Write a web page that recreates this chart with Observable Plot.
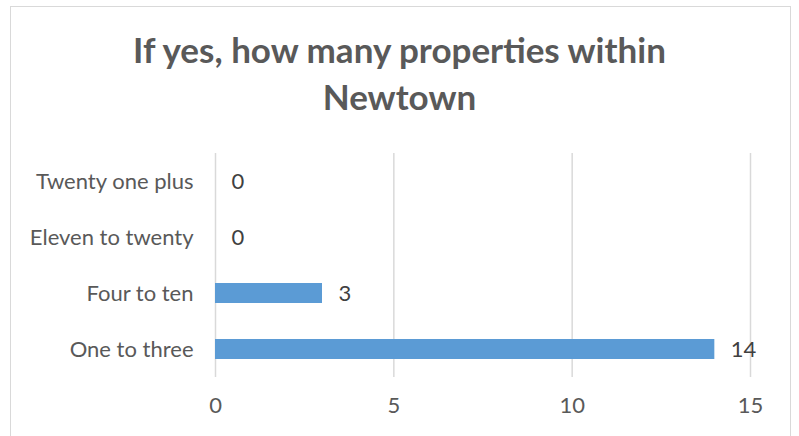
<!DOCTYPE html>
<html>
<head>
<meta charset="utf-8">
<script src="https://cdn.jsdelivr.net/npm/d3@7"></script>
<script src="https://cdn.jsdelivr.net/npm/@observablehq/plot@0.6"></script>
<style>
  html, body { margin: 0; padding: 0; background: #fff; }
  #wrap { position: relative; width: 799px; height: 436px; overflow: hidden; font-family: Lato, "Open Sans", sans-serif; }
  #frame { position: absolute; left: 10px; top: 6px; width: 781px; height: 440px; border: 1.5px solid #d9d9d9; box-sizing: border-box; }
  #title { position: absolute; left: 0; top: 0; width: 799px; text-align: center; color: #595959; font-weight: bold; font-size: 35px; line-height: 47px; padding-top: 26px; }
  #chart { position: absolute; left: 0; top: 140px; }
</style>
</head>
<body>
<div id="wrap">
  <div id="frame"></div>
  <div id="title">If yes, how many properties within<br>Newtown</div>
  <div id="chart"></div>
</div>
<script>
const categories = ["Twenty one plus", "Eleven to twenty", "Four to ten", "One to three"];
const counts = [0, 0, 3, 14];
const xTicks = [0, 5, 10, 15];

const data = categories.map((c, i) => ({category: c, count: counts[i]}));

const plot = Plot.plot({
  width: 799,
  height: 296,
  marginLeft: 215,
  marginRight: 49,
  marginTop: 13,
  marginBottom: 59,
  style: {fontFamily: "Lato, 'Open Sans', sans-serif", fontSize: "22px", background: "transparent"},
  x: {domain: [0, 15], ticks: xTicks, label: null},
  y: {domain: categories, paddingInner: 0.64, paddingOuter: 0.32, label: null},
  marks: [
    Plot.gridX(xTicks, {stroke: "#d9d9d9", strokeOpacity: 1, strokeWidth: 1.5}),
    Plot.barX(data, {x: "count", y: "category", fill: "#5b9bd5"}),
    Plot.text(data, {x: "count", y: "category", text: d => String(d.count), textAnchor: "start", dx: 16, fill: "#404040", fontSize: 22}),
    Plot.axisX({ticks: xTicks, tickSize: 0, tickPadding: 20, fill: "#595959", fontSize: 22, label: null}),
    Plot.axisY({tickSize: 0, tickPadding: 22, fill: "#595959", fontSize: 22, label: null})
  ]
});
document.getElementById("chart").appendChild(plot);
</script>
</body>
</html>
